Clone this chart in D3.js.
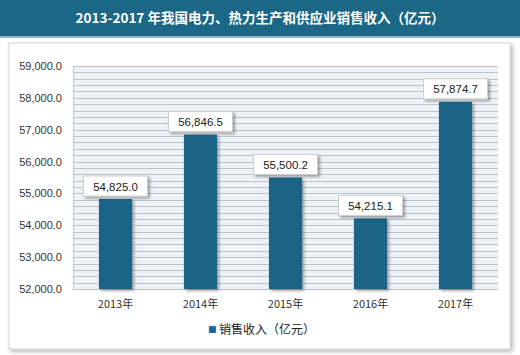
<!DOCTYPE html>
<html><head><meta charset="utf-8">
<script src="https://cdn.jsdelivr.net/npm/d3@7"></script>
<style>body{margin:0;background:#fff;} svg{display:block;}</style>
</head><body>
<svg id="c" width="520" height="355"></svg>
<script>
const categories = ["2013年","2014年","2015年","2016年","2017年"];
const values = [54825.0, 56846.5, 55500.2, 54215.1, 57874.7];
const yTicks = [52000,53000,54000,55000,56000,57000,58000,59000];
const title = "2013-2017 年我国电力、热力生产和供应业销售收入（亿元）";
const seriesName = "销售收入（亿元）";

const svg = d3.select("#c");
const defs = svg.append("defs");
const f = defs.append("filter").attr("id","sh").attr("x","-10%").attr("y","-10%").attr("width","130%").attr("height","130%");
f.append("feDropShadow").attr("dx",2).attr("dy",2).attr("stdDeviation",1.5).attr("flood-color","#000").attr("flood-opacity",0.35);
const f2 = defs.append("filter").attr("id","bs").attr("x","-5%").attr("y","-5%").attr("width","110%").attr("height","110%");
f2.append("feDropShadow").attr("dx",2).attr("dy",2).attr("stdDeviation",2).attr("flood-color","#000").attr("flood-opacity",0.3);

// banner
svg.append("rect").attr("x",0).attr("y",0).attr("width",520).attr("height",36).attr("fill","#1c6686");
svg.append("rect").attr("x",0).attr("y",36).attr("width",520).attr("height",2).attr("fill","#8fb8cc");
svg.append("text").attr("x",260).attr("y",23).attr("text-anchor","middle")
  .attr("fill","#fff").attr("font-family","'Noto Sans CJK SC', sans-serif").attr("font-weight","bold").attr("font-size",13.5)
  .text(title);

// chart box
svg.append("rect").attr("x",9).attr("y",43).attr("width",501).attr("height",306).attr("fill","#fff")
  .attr("stroke","#d6d6d6").attr("stroke-width",1).attr("filter","url(#bs)");

const m = {l:73, r:498, t:66, b:289};
const x = d3.scaleBand().domain(categories).range([m.l,m.r]).paddingInner(0.61).paddingOuter(0.305);
const y = d3.scaleLinear().domain([52000,59000]).range([m.b,m.t]);

// plot bg
svg.append("rect").attr("x",m.l).attr("y",m.t).attr("width",m.r-m.l).attr("height",m.b-m.t).attr("fill","#edf2f8");
const minor = d3.range(52000,59001,200);
svg.append("g").selectAll("line").data(minor).join("line")
  .attr("x1",m.l).attr("x2",m.r).attr("y1",d=>Math.round(y(d))+0.5).attr("y2",d=>Math.round(y(d))+0.5)
  .attr("stroke","#bfc3c8").attr("stroke-width",1);
// left edge line
svg.append("line").attr("x1",m.l+0.5).attr("x2",m.l+0.5).attr("y1",m.t).attr("y2",m.b).attr("stroke","#c8c8c8");

// y axis
const ya = svg.append("g").attr("transform",`translate(${m.l},0)`)
  .call(d3.axisLeft(y).tickValues(yTicks).tickSize(0).tickPadding(11).tickFormat(d=>d3.format(",.1f")(d)));
ya.select(".domain").remove();
ya.selectAll("text").attr("font-family","'Liberation Sans', Arial, sans-serif").attr("font-size",11).attr("fill","#333");

// x axis
const xa = svg.append("g").attr("transform",`translate(0,${m.b})`)
  .call(d3.axisBottom(x).tickSize(0).tickPadding(11));
xa.select(".domain").remove();
xa.selectAll("text").attr("font-family","'Noto Sans CJK SC', sans-serif").attr("font-size",11).attr("fill","#333");

// bars
svg.append("g").selectAll("rect").data(values).join("rect")
  .attr("x",(d,i)=>x(categories[i])).attr("width",x.bandwidth())
  .attr("y",d=>y(d)).attr("height",d=>m.b-y(d))
  .attr("fill","#1b6488").attr("filter","url(#sh)");

// labels
const lg = svg.append("g").selectAll("g").data(values).join("g")
  .attr("transform",(d,i)=>`translate(${x(categories[i])+x.bandwidth()/2},${y(d)-13})`);
lg.append("rect").attr("x",-32).attr("y",-10).attr("width",64).attr("height",20)
  .attr("fill","#fff").attr("stroke","#cfcfcf").attr("filter","url(#sh)");
lg.append("text").attr("text-anchor","middle").attr("y",4.5)
  .attr("font-family","'Liberation Sans', Arial, sans-serif").attr("font-size",11.5).attr("fill","#222")
  .text(d=>d3.format(",.1f")(d));

// legend
svg.append("rect").attr("x",209).attr("y",326).attr("width",7).attr("height",7).attr("fill","#1b6488")
  .attr("stroke","#8fb8cc").attr("stroke-width",0.5);
svg.append("text").attr("x",219).attr("y",334).attr("font-family","'Noto Sans CJK SC', sans-serif")
  .attr("font-size",12).attr("fill","#222").text(seriesName);
</script>
</body></html>
